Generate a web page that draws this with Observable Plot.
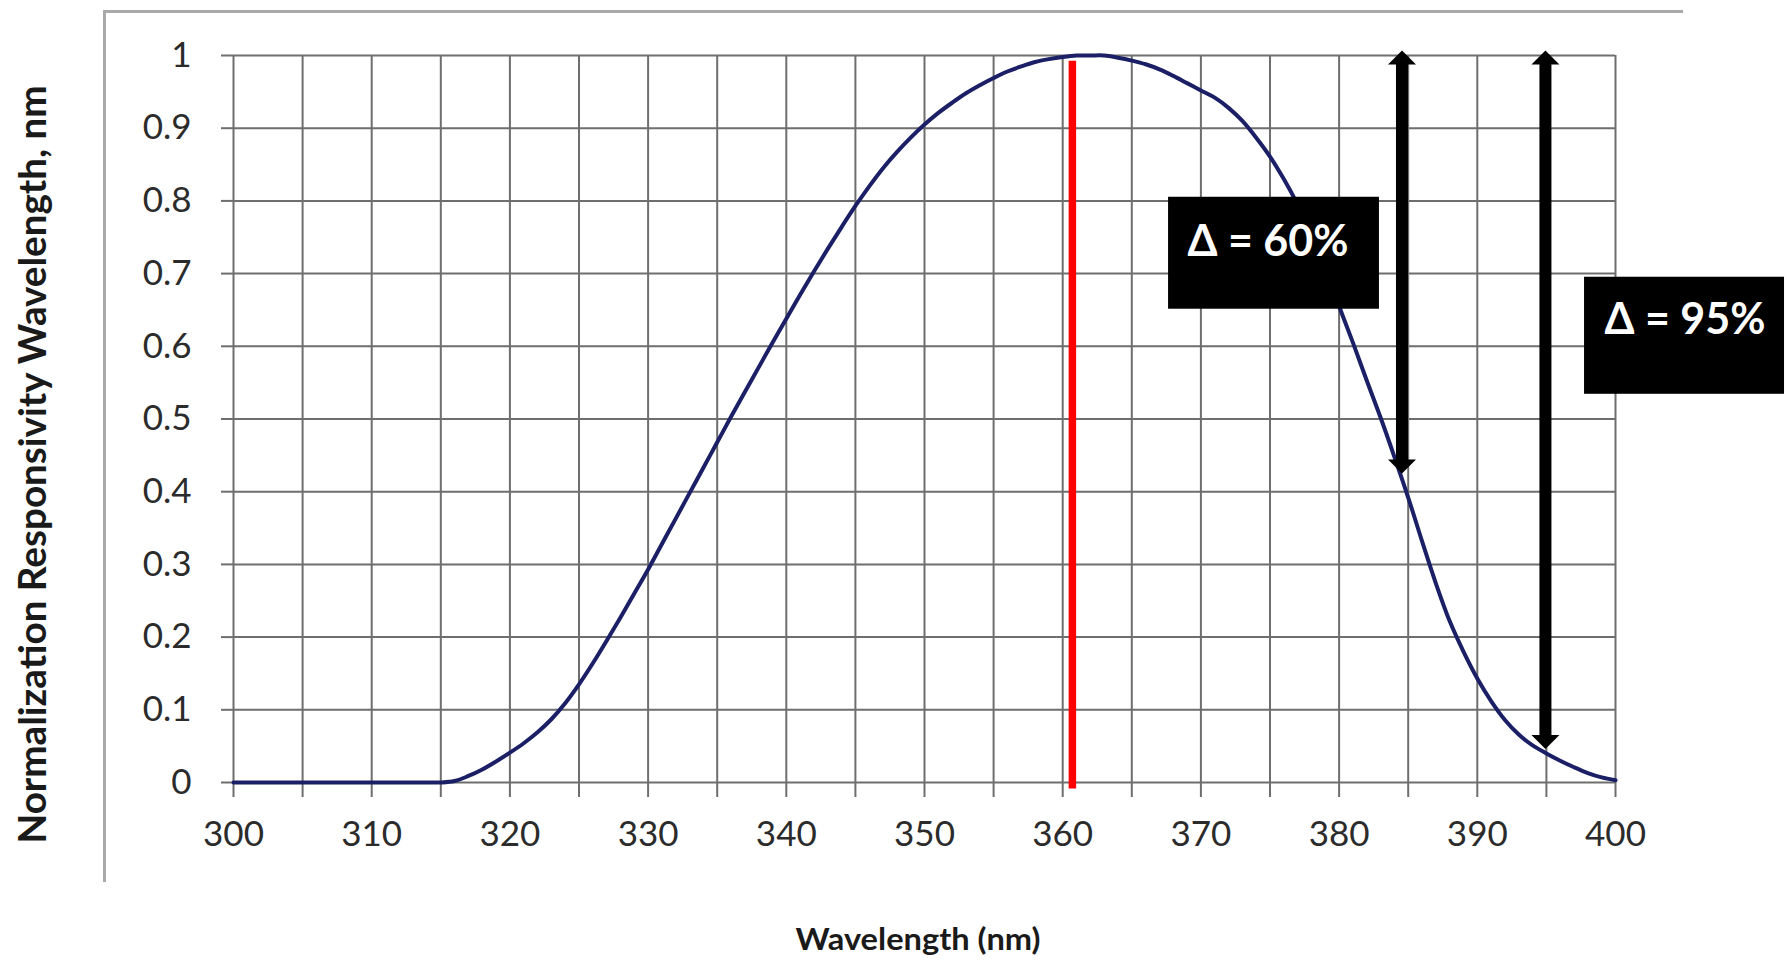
<!DOCTYPE html>
<html>
<head>
<meta charset="utf-8">
<script src="https://cdn.jsdelivr.net/npm/d3@7"></script>
<script src="https://cdn.jsdelivr.net/npm/@observablehq/plot@0.6"></script>
<style>
  body { margin: 0; background: #ffffff; }
  #wrap { position: relative; width: 1787px; height: 962px; overflow: hidden; }
  #frame { position: absolute; left: 103px; top: 10px; width: 1577px; height: 869px;
           border-top: 3px solid #a9a9a9; border-left: 3px solid #a9a9a9; pointer-events: none; }
</style>
</head>
<body>
<div id="wrap"><div id="chart"></div><div id="frame"></div></div>
<script>
// ---- data ----
const wavelengths = [
  300,301,302,303,304,305,306,307,308,309,310,311,312,313,314,315,316,317,318,319,
  320,321,322,323,324,325,326,327,328,329,330,331,332,333,334,335,336,337,338,339,
  340,341,342,343,344,345,346,347,348,349,350,351,352,353,354,355,356,357,358,359,
  360,361,362,363,364,365,366,367,368,369,370,371,372,373,374,375,376,377,378,379,
  380,381,382,383,384,385,386,387,388,389,390,391,392,393,394,395,396,397,398,399,400
];
const responsivity = [
  0,0,0,0,0,0,0,0,0,0,0,0,0,0,0,0,0.002,0.009,0.018,0.029,
  0.041,0.054,0.069,0.087,0.109,0.135,0.164,0.195,0.227,0.26,0.293,0.328,0.363,0.398,0.433,0.468,0.503,0.537,0.571,0.605,
  0.638,0.671,0.703,0.734,0.764,0.793,0.82,0.845,0.867,0.887,0.905,0.921,0.935,0.948,0.959,0.969,0.978,0.985,0.991,0.995,
  0.998,1,1,1,0.997,0.993,0.988,0.981,0.972,0.962,0.952,0.942,0.928,0.91,0.887,0.861,0.83,0.795,0.755,0.706,
  0.655,0.605,0.553,0.502,0.448,0.392,0.332,0.274,0.222,0.18,0.143,0.112,0.086,0.066,0.051,0.04,0.03,0.021,0.013,0.007,0.003
];
const xTicks = [300,305,310,315,320,325,330,335,340,345,350,355,360,365,370,375,380,385,390,395,400];
const xTickLabels = ["300","","310","","320","","330","","340","","350","","360","","370","","380","","390","","400"];
const yTicks = [0,0.1,0.2,0.3,0.4,0.5,0.6,0.7,0.8,0.9,1];
const yTickLabels = ["0","0.1","0.2","0.3","0.4","0.5","0.6","0.7","0.8","0.9","1"];
const xTitle = "Wavelength (nm)";
const yTitle = "Normalization Responsivity Wavelength, nm";
const peakMarker = [{wavelength: 360.7, from: -0.009, to: 0.992}];
const deltaArrows = [
  {wavelength: 384.55, top: 1.007, bottom: 0.425},
  {wavelength: 394.93, top: 1.007, bottom: 0.046}
];
const deltaBoxes = [
  {x1: 367.66, x2: 382.92, y1: 0.651, y2: 0.805, labelX: 369.03, labelY: 0.743, label: "Δ = 60%"},
  {x1: 397.76, x2: 412.23, y1: 0.534, y2: 0.695, labelX: 399.2, labelY: 0.636, label: "Δ = 95%"}
];

// ---- build ----
const curve = wavelengths.map((w, i) => ({wavelength: w, value: responsivity[i]}));
const xLabel = new Map(xTicks.map((t, i) => [t, xTickLabels[i]]));
const yLabel = new Map(yTicks.map((t, i) => [t, yTickLabels[i]]));
const headUp = {draw(ctx) { ctx.moveTo(0, 0); ctx.lineTo(14, 14); ctx.lineTo(-14, 14); ctx.closePath(); }};
const headDown = {draw(ctx) { ctx.moveTo(0, 0); ctx.lineTo(14, -14); ctx.lineTo(-14, -14); ctx.closePath(); }};
const gridColor = "#6e6e6e";

const chart = Plot.plot({
  width: 1787,
  height: 962,
  marginLeft: 233,
  marginRight: 172,
  marginTop: 55,
  marginBottom: 180,
  x: {domain: [300, 400]},
  y: {domain: [0, 1]},
  style: {fontFamily: "Lato, 'Open Sans', sans-serif", color: "#2b2b2b", background: "#ffffff"},
  marks: [
    Plot.ruleX(xTicks, {stroke: gridColor, strokeWidth: 2}),
    Plot.ruleY(yTicks, {stroke: gridColor, strokeWidth: 2}),
    Plot.axisX(xTicks, {tickSize: 15, tickPadding: 24, fontSize: 35, stroke: gridColor, strokeWidth: 2,
      tickFormat: d => xLabel.get(d), label: null}),
    Plot.axisY(yTicks, {tickSize: 12, tickPadding: 30, fontSize: 35, stroke: gridColor, strokeWidth: 2,
      tickFormat: d => yLabel.get(d), label: null}),
    Plot.line(curve, {x: "wavelength", y: "value", stroke: "#1b1f66", strokeWidth: 4, curve: "catmull-rom"}),
    Plot.ruleX(peakMarker, {x: "wavelength", y1: "from", y2: "to", stroke: "#ff0000", strokeWidth: 7.5}),
    Plot.rect(deltaBoxes, {x1: "x1", x2: "x2", y1: "y1", y2: "y2", fill: "#000000"}),
    Plot.text(deltaBoxes, {x: "labelX", y: "labelY", text: "label", fill: "#ffffff", fontSize: 43,
      fontWeight: "bold", textAnchor: "start", lineAnchor: "middle"}),
    Plot.ruleX(deltaArrows, {x: "wavelength", y1: "top", y2: "bottom", stroke: "#000000", strokeWidth: 12,
      insetTop: 12, insetBottom: 12}),
    Plot.dot(deltaArrows, {x: "wavelength", y: "top", symbol: headUp, fill: "#000000", stroke: "none"}),
    Plot.dot(deltaArrows, {x: "wavelength", y: "bottom", symbol: headDown, fill: "#000000", stroke: "none"}),
    Plot.text([yTitle], {frameAnchor: "left", dx: -200, dy: 45.5, rotate: -90, fontSize: 38, fontWeight: "bold",
      textAnchor: "middle", lineAnchor: "middle", fill: "#1a1a1a"}),
    Plot.text([xTitle], {frameAnchor: "bottom", dx: -6.5, dy: 158, fontSize: 31, fontWeight: "bold",
      textAnchor: "middle", lineAnchor: "middle", fill: "#1a1a1a"})
  ]
});

d3.select(chart).selectAll("text")
  .filter(function () { return this.textContent === yTitle; })
  .attr("textLength", 758).attr("lengthAdjust", "spacingAndGlyphs");
d3.select(chart).selectAll("text")
  .filter(function () { return this.textContent === xTitle; })
  .attr("textLength", 245).attr("lengthAdjust", "spacingAndGlyphs");

document.getElementById("chart").appendChild(chart);
</script>
</body>
</html>
